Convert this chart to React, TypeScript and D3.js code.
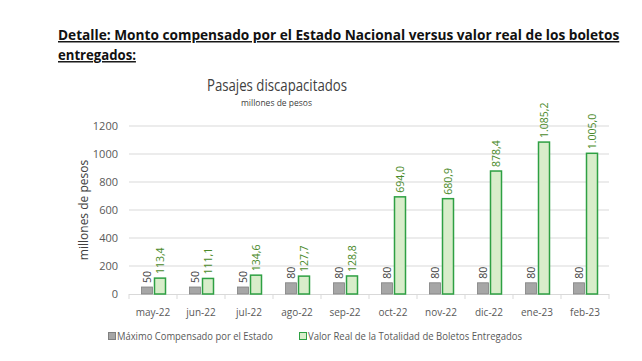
import React, { useEffect, useRef } from "react";
import * as d3 from "d3";

const months = ["may-22", "jun-22", "jul-22", "ago-22", "sep-22", "oct-22", "nov-22", "dic-22", "ene-23", "feb-23"];
const maxCompensado = [50, 50, 50, 80, 80, 80, 80, 80, 80, 80];
const valorReal = [113.4, 111.1, 134.6, 127.7, 128.8, 694.0, 680.9, 878.4, 1085.2, 1005.0];
const yTicks = [0, 200, 400, 600, 800, 1000, 1200];

const fmt = (v: number) => {
  const s = v.toFixed(1).replace(".", ",");
  const [int, dec] = s.split(",");
  return (int.length > 3 ? int.slice(0, -3) + "." + int.slice(-3) : int) + "," + dec;
};

export default function App() {
  const ref = useRef<SVGSVGElement>(null);

  useEffect(() => {
    const svg = d3.select(ref.current);
    svg.selectAll("*").remove();
    const font = "Open Sans, sans-serif";

    const left = 129, right = 609, top = 126, bottom = 294;
    const x = d3.scaleBand().domain(months).range([left, right]);
    const y = d3.scaleLinear().domain([0, 1200]).range([bottom, top]);

    svg.append("rect").attr("width", 642).attr("height", 361).attr("fill", "#fff");

    // heading, squeezed horizontally to the reference width
    const heading = (txt: string, yy: number, w: number) => {
      const g = svg.append("g");
      const t = g.append("text")
        .attr("x", 0).attr("y", 0)
        .attr("font-family", font).attr("font-weight", "bold").attr("font-size", 14.5)
        .attr("text-decoration", "underline").attr("fill", "#111")
        .text(txt);
      const len = (t.node() as SVGTextElement).getComputedTextLength();
      g.attr("transform", `translate(58,${yy}) scale(${w / len},1)`);
    };
    heading("Detalle: Monto compensado por el Estado Nacional versus valor real de los boletos", 40, 562);
    heading("entregados:", 60, 78);

    // chart titles
    svg.append("text")
      .attr("x", 207).attr("y", 91)
      .attr("font-family", font).attr("font-size", 16).attr("fill", "#404040")
      .attr("textLength", 140).attr("lengthAdjust", "spacingAndGlyphs")
      .text("Pasajes discapacitados");
    svg.append("text")
      .attr("x", 241).attr("y", 106)
      .attr("font-family", font).attr("font-size", 9.5).attr("fill", "#404040")
      .attr("textLength", 71).attr("lengthAdjust", "spacingAndGlyphs")
      .text("millones de pesos");

    // gridlines
    svg.append("g").selectAll("line").data(yTicks.slice(1)).join("line")
      .attr("x1", left).attr("x2", right)
      .attr("y1", d => y(d)).attr("y2", d => y(d))
      .attr("stroke", "#d9d9d9").attr("stroke-width", 1);

    // y axis labels
    svg.append("g").selectAll("text").data(yTicks).join("text")
      .attr("x", 118).attr("y", d => y(d) + 4).attr("text-anchor", "end")
      .attr("font-family", font).attr("font-size", 11).attr("fill", "#595959")
      .text(d => d);

    svg.append("text")
      .attr("transform", `translate(88,${(top + bottom) / 2}) rotate(-90)`)
      .attr("text-anchor", "middle")
      .attr("font-family", font).attr("font-size", 12).attr("fill", "#404040")
      .text("millones de pesos");

    // x axis
    svg.append("line").attr("x1", left).attr("x2", right).attr("y1", bottom + 0.5).attr("y2", bottom + 0.5)
      .attr("stroke", "#d9d9d9");
    svg.append("g").selectAll("line").data([...months.map(m => x(m)!), right]).join("line")
      .attr("x1", d => d).attr("x2", d => d).attr("y1", bottom).attr("y2", bottom + 5)
      .attr("stroke", "#d9d9d9");
    svg.append("g").selectAll("text").data(months).join("text")
      .attr("x", d => x(d)! + x.bandwidth() / 2).attr("y", 316).attr("text-anchor", "middle")
      .attr("font-family", font).attr("font-size", 10).attr("fill", "#595959")
      .text(d => d);

    const bw = 11;
    const mid = (m: string) => x(m)! + x.bandwidth() / 2;

    // gray bars
    svg.append("g").selectAll("rect").data(maxCompensado).join("rect")
      .attr("x", (d, i) => mid(months[i]) - bw - 0.5)
      .attr("y", d => y(d)).attr("width", bw).attr("height", d => bottom - y(d))
      .attr("fill", "#a6a6a6").attr("stroke", "#808080").attr("stroke-width", 0.8);
    // green bars
    svg.append("g").selectAll("rect").data(valorReal).join("rect")
      .attr("x", (d, i) => mid(months[i]) + 1.5)
      .attr("y", d => y(d)).attr("width", bw).attr("height", d => bottom - y(d))
      .attr("fill", "#d8edca").attr("stroke", "#2ea043").attr("stroke-width", 1.5);

    // labels
    svg.append("g").selectAll("text").data(maxCompensado).join("text")
      .attr("transform", (d, i) => `translate(${mid(months[i]) - bw / 2 + 3.5},${y(d) - 4}) rotate(-90)`)
      .attr("font-family", font).attr("font-size", 10.5).attr("fill", "#404040")
      .text(d => d);
    svg.append("g").selectAll("text").data(valorReal).join("text")
      .attr("transform", (d, i) => `translate(${mid(months[i]) + 1.5 + bw / 2 + 4},${y(d) - 4}) rotate(-90)`)
      .attr("font-family", font).attr("font-size", 10.5).attr("fill", "#4a8a2a")
      .text(d => fmt(d));

    // legend
    svg.append("rect").attr("x", 108.5).attr("y", 332.5).attr("width", 7).attr("height", 7)
      .attr("fill", "#a6a6a6").attr("stroke", "#808080");
    svg.append("text").attr("x", 117).attr("y", 340)
      .attr("font-family", font).attr("font-size", 10.5).attr("fill", "#595959")
      .attr("textLength", 156).attr("lengthAdjust", "spacingAndGlyphs")
      .text("Máximo Compensado por el Estado");
    svg.append("rect").attr("x", 299.5).attr("y", 332.5).attr("width", 7).attr("height", 7)
      .attr("fill", "#d8edca").attr("stroke", "#2ea043");
    svg.append("text").attr("x", 308).attr("y", 340)
      .attr("font-family", font).attr("font-size", 10.5).attr("fill", "#595959")
      .attr("textLength", 214).attr("lengthAdjust", "spacingAndGlyphs")
      .text("Valor Real de la Totalidad de Boletos Entregados");
  }, []);

  return (
    <svg ref={ref} width={642} height={361} style={{ position: "absolute", left: 0, top: 0 }} />
  );
}
